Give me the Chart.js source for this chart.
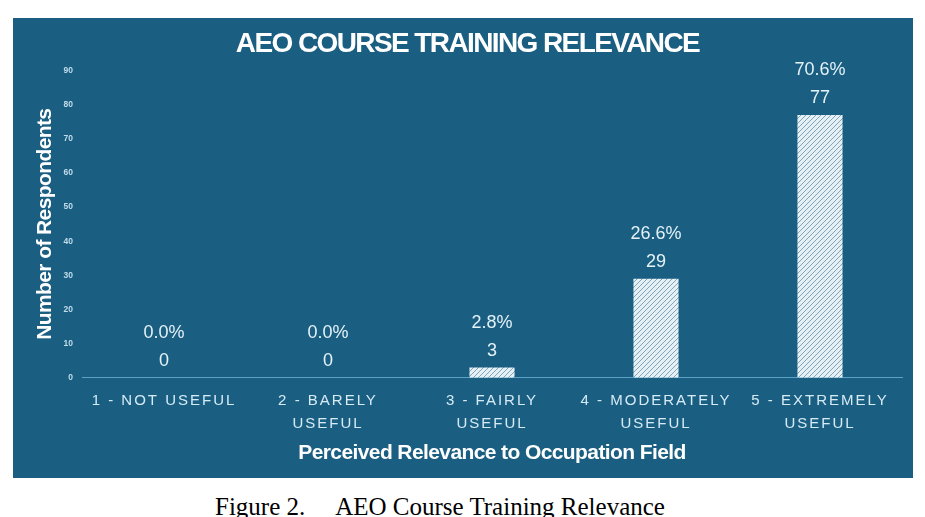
<!DOCTYPE html>
<html><head><meta charset="utf-8">
<script src="https://cdn.jsdelivr.net/npm/chart.js@4.4.1/dist/chart.umd.min.js"></script>
<style>
html,body{margin:0;padding:0;background:#fff;width:925px;height:517px;overflow:hidden;}
#wrap{position:absolute;left:13px;top:18px;width:900px;height:460px;background:#1a5f82;}
#cap{position:absolute;left:215px;top:494px;font-family:"Liberation Serif","Times New Roman",serif;font-size:25px;line-height:1;color:#000;white-space:pre;}
</style></head><body>
<div id="wrap"><canvas id="c" width="900" height="460"></canvas></div>
<div id="cap">Figure 2.     AEO Course Training Relevance</div>
<script>
const categories = [["1 - NOT USEFUL"],["2 - BARELY","USEFUL"],["3 - FAIRLY","USEFUL"],["4 - MODERATELY","USEFUL"],["5 - EXTREMELY","USEFUL"]];
const counts = [0,0,3,29,77];
const percents = ["0.0%","0.0%","2.8%","26.6%","70.6%"];
const yTicks = [0,10,20,30,40,50,60,70,80,90];

function hatch(){
  const p=document.createElement('canvas');p.width=5;p.height=5;
  const g=p.getContext('2d');
  g.fillStyle='#e6eff4';g.fillRect(0,0,5,5);
  g.strokeStyle='#7ea6bb';g.lineWidth=1;
  g.beginPath();
  for(let k=-5;k<=10;k+=5){g.moveTo(k,5);g.lineTo(k+5,0);}
  g.stroke();
  return g.createPattern(p,'repeat');
}

function withSpacing(obj,fn,sp){
  if(!obj||obj['_p_'+fn])return;
  const orig=obj[fn].bind(obj);
  obj[fn]=function(...a){const c=this.ctx||a[0];const prev=c.letterSpacing;c.letterSpacing=sp;const r=orig(...a);c.letterSpacing=prev;return r;};
  obj['_p_'+fn]=true;
}
const spacingPlugin={id:'sp',beforeDraw(chart){
  withSpacing(chart.scales.x,'drawLabels','2px');
  withSpacing(chart.scales.x,'drawTitle','-0.6px');
  withSpacing(chart.scales.y,'drawTitle','-0.6px');
  withSpacing(chart.titleBlock,'draw','-1.6px');
}};

const labelPlugin={id:'lbl',afterDatasetsDraw(chart){
  const ctx=chart.ctx;const meta=chart.getDatasetMeta(0);
  ctx.save();ctx.fillStyle='#e4f2f8';ctx.font='18px "Liberation Sans", Arial, sans-serif';
  ctx.textAlign='center';ctx.textBaseline='alphabetic';
  meta.data.forEach((el,i)=>{
    ctx.fillText(String(counts[i]),el.x,el.y-12);
    ctx.fillText(percents[i],el.x,el.y-40);
  });
  ctx.restore();
}};

new Chart(document.getElementById('c'),{
  type:'bar',
  data:{labels:categories,datasets:[{data:counts,backgroundColor:hatch(),borderWidth:0,barPercentage:0.275,categoryPercentage:1}]},
  options:{
    responsive:false,animation:false,
    layout:{padding:{left:20,right:11,top:0,bottom:12}},
    plugins:{legend:{display:false},tooltip:{enabled:false},
      title:{display:true,text:'AEO COURSE TRAINING RELEVANCE',color:'#ffffff',
        font:{family:'"Liberation Sans",Arial,sans-serif',size:28,weight:'bold'},padding:{top:9,bottom:10}}},
    scales:{
      x:{grid:{display:false,drawTicks:false},border:{display:true,color:'#5aa3c6',width:1},
        ticks:{color:'#d6ebf5',font:{family:'"Liberation Sans",Arial,sans-serif',size:15,lineHeight:1.5},padding:12,maxRotation:0,autoSkip:false},
        title:{display:true,text:'Perceived Relevance to Occupation Field',color:'#ffffff',
          font:{family:'"Liberation Sans",Arial,sans-serif',size:21,weight:'bold'},padding:{top:-6,bottom:0}}},
      y:{min:0,max:90,grid:{display:false,drawTicks:false},border:{display:false},
        afterBuildTicks(s){s.ticks=yTicks.map(v=>({value:v}));},
        afterFit(s){s.width=49;},
        ticks:{color:'#c0dceb',font:{family:'"Liberation Sans",Arial,sans-serif',size:8.5,weight:'bold'},padding:9},
        title:{display:true,text:'Number of Respondents',color:'#ffffff',
          font:{family:'"Liberation Sans",Arial,sans-serif',size:21,weight:'bold'},padding:{top:0,bottom:8}}}
    }
  },
  plugins:[spacingPlugin,labelPlugin]
});
</script>
</body></html>
